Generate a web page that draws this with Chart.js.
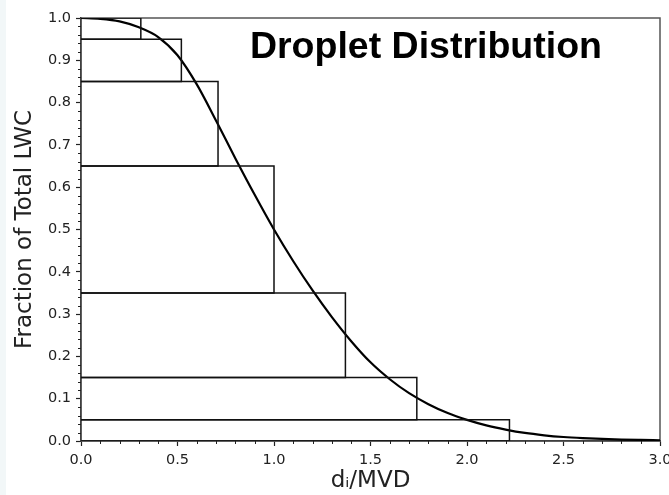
<!DOCTYPE html>
<html>
<head>
<meta charset="utf-8">
<script src="https://cdn.jsdelivr.net/npm/chart.js@4"></script>
<style>
  html, body { margin: 0; padding: 0; background: #f2f7f8; overflow: hidden; }
  #wrap { position: absolute; left: 6px; top: 0; width: 663px; height: 495px; background: #fff; }
</style>
</head>
<body>
<div id="wrap"><canvas id="chart"></canvas></div>
<script>
// boxes: x from 0 to boxRight, y from boxBottom to boxTop
const boxRight = [0.31, 0.52, 0.71, 1.0, 1.37, 1.74, 2.22];
const boxTop = [1.0, 0.95, 0.85, 0.65, 0.35, 0.15, 0.05];
const boxBottom = [0.95, 0.85, 0.65, 0.35, 0.15, 0.05, 0.0];

// cumulative curve
const curveX = [0, 0.1, 0.2, 0.3, 0.4, 0.5, 0.6, 0.7, 0.8, 0.9, 1.0, 1.1, 1.2, 1.3, 1.4, 1.5, 1.6, 1.7, 1.8, 1.9, 2.0, 2.1, 2.2, 2.3, 2.4, 2.5, 2.6, 2.7, 2.8, 2.9, 3.0];
const curveY = [1.0, 0.998, 0.992, 0.978, 0.955, 0.912, 0.843, 0.757, 0.668, 0.582, 0.5, 0.425, 0.356, 0.293, 0.236, 0.186, 0.146, 0.113, 0.087, 0.066, 0.05, 0.037, 0.027, 0.019, 0.0135, 0.0095, 0.0068, 0.0048, 0.0034, 0.0025, 0.0018];

const xMajor = [0, 0.5, 1.0, 1.5, 2.0, 2.5, 3.0];
const yMajor = [0, 0.1, 0.2, 0.3, 0.4, 0.5, 0.6, 0.7, 0.8, 0.9, 1.0];

const titleText = "Droplet Distribution";
const xLabel = "d\u1D62/MVD";
const yLabel = "Fraction of Total LWC";

const tickFont = { family: "DejaVu Sans", size: 14.5 };
const labelFont = { family: "DejaVu Sans", size: 23 };

const datasets = boxRight.map((d, i) => ({
  data: [
    { x: 0, y: boxBottom[i] },
    { x: d, y: boxBottom[i] },
    { x: d, y: boxTop[i] },
    { x: 0, y: boxTop[i] },
  ],
  borderColor: "#111",
  borderWidth: 1.5,
  pointRadius: 0,
  tension: 0,
  fill: false,
}));

datasets.push({
  data: curveX.map((x, i) => ({ x, y: curveY[i] })),
  borderColor: "#000",
  borderWidth: 2.2,
  pointRadius: 0,
  cubicInterpolationMode: "monotone",
  fill: false,
});

const framePlugin = {
  id: "frame",
  beforeDatasetsDraw(chart) {
    const { ctx, chartArea: a } = chart;
    ctx.save();
    ctx.strokeStyle = "#555";
    ctx.lineWidth = 1.5;
    ctx.strokeRect(a.left, a.top, a.right - a.left, a.bottom - a.top);
    ctx.restore();
  },
  afterDraw(chart) {
    const { ctx, chartArea: a, scales } = chart;
    ctx.save();
    ctx.strokeStyle = "#222";
    ctx.lineWidth = 1;
    ctx.beginPath();
    // minor ticks
    for (let k = 0; k <= 30; k++) {
      if (k % 5 == 0) continue;
      const px = Math.round(scales.x.getPixelForValue(k / 10)) + 0.5;
      ctx.moveTo(px, a.bottom);
      ctx.lineTo(px, a.bottom + 3);
    }
    for (let k = 0; k <= 50; k++) {
      if (k % 5 == 0) continue;
      const py = Math.round(scales.y.getPixelForValue(k / 50)) + 0.5;
      ctx.moveTo(a.left - 3, py);
      ctx.lineTo(a.left, py);
    }
    ctx.stroke();

    ctx.fillStyle = "#000";
    ctx.font = "bold 37.5px 'Liberation Sans', Arial, sans-serif";
    ctx.textAlign = "right";
    ctx.textBaseline = "alphabetic";
    ctx.fillText(titleText, a.right - 58, a.top + 40);
    ctx.restore();
  },
};

new Chart(document.getElementById("chart"), {
  type: "line",
  data: { datasets },
  options: {
    responsive: true,
    maintainAspectRatio: false,
    animation: false,
    layout: { padding: { top: 18, right: 9, left: 0, bottom: 0 } },
    plugins: { legend: { display: false }, tooltip: { enabled: false } },
    scales: {
      x: {
        type: "linear",
        min: 0,
        max: 3,
        afterBuildTicks: (s) => { s.ticks = xMajor.map((v) => ({ value: v })); },
        afterFit: (s) => {
          s.height = 54;
          // let the last label run off the edge like the original
          s.paddingLeft = 0;
          s.paddingRight = 0;
        },
        ticks: {
          font: tickFont,
          color: "#222",
          padding: 6,
          maxRotation: 0,
          autoSkip: false,
          callback: (v) => Number(v).toFixed(1),
        },
        grid: { drawOnChartArea: false, tickLength: 5, tickColor: "#222", tickWidth: 1.2 },
        border: { color: "#000", width: 1.5 },
        title: { display: true, text: xLabel, font: labelFont, color: "#222", padding: { top: 2, bottom: 0 } },
      },
      y: {
        type: "linear",
        min: 0,
        max: 1,
        afterBuildTicks: (s) => { s.ticks = yMajor.map((v) => ({ value: v })); },
        afterFit: (s) => { s.width = 75; },
        ticks: {
          font: tickFont,
          color: "#222",
          padding: 5,
          autoSkip: false,
          callback: (v) => Number(v).toFixed(1),
        },
        grid: { drawOnChartArea: false, tickLength: 5, tickColor: "#222", tickWidth: 1.2 },
        border: { color: "#000", width: 1.5 },
        title: { display: true, text: yLabel, font: labelFont, color: "#222", padding: { top: 5, bottom: 4 } },
      },
    },
  },
  plugins: [framePlugin],
});
</script>
</body>
</html>
